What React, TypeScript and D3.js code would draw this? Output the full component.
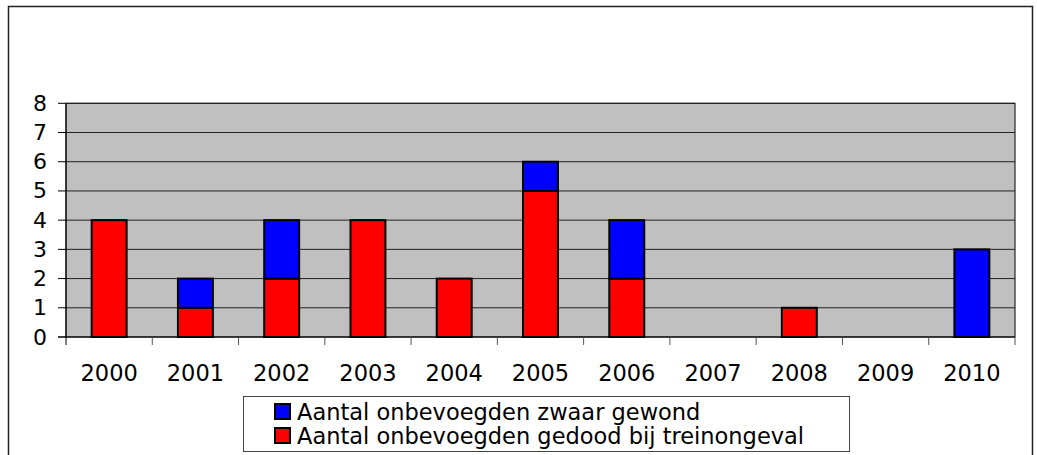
import * as React from 'react';
import * as d3 from 'd3';

const years: string[] = ['2000', '2001', '2002', '2003', '2004', '2005', '2006', '2007', '2008', '2009', '2010'];
// gedood bij treinongeval (bottom, red)
const killed: number[] = [4, 1, 2, 4, 2, 5, 2, 0, 1, 0, 0];
// zwaar gewond (top, blue)
const injured: number[] = [0, 1, 2, 0, 0, 1, 2, 0, 0, 0, 3];
const yTicks: number[] = [0, 1, 2, 3, 4, 5, 6, 7, 8];
const seriesNames: string[] = ['Aantal onbevoegden zwaar gewond', 'Aantal onbevoegden gedood bij treinongeval'];

const WIDTH = 1037;
const HEIGHT = 455;
const FONT = '"DejaVu Sans", Verdana, sans-serif';

const App: React.FC = () => {
	// plot area edges
	const left = 66;
	const right = 1015;
	const top = 103.3;
	const bottom = 337;

	const x = d3.scaleBand<string>().domain(years).range([left, right]).padding(0);
	const y = d3.scaleLinear().domain([0, 8]).range([bottom, top]);
	const barW = x.bandwidth() * 0.405;

	// stack: red first at the bottom, blue above it
	const rows = years.map((yr, i) => ({ year: yr, killed: killed[i], injured: injured[i] }));
	const stack = d3.stack<any>().keys(['killed', 'injured'])(rows);
	const colors: { [k: string]: string } = { killed: '#ff0000', injured: '#0000ff' };

	const boundaries = d3.range(years.length + 1).map((i) => left + i * x.bandwidth());

	return (
		<svg width={WIDTH} height={HEIGHT} style={{ position: 'absolute', left: 0, top: 0, background: '#fff' }} fontFamily={FONT}>
			{/* outer frame */}
			<rect x={8.5} y={6.5} width={1024} height={470} fill="#fff" stroke="#222" strokeWidth={1.5} />

			{/* plot area */}
			<rect x={left} y={top} width={right - left} height={bottom - top} fill="#c0c0c0" stroke="#000" strokeWidth={1} />

			{/* gridlines */}
			{yTicks.slice(1).map((t) => (
				<line key={'g' + t} x1={left} x2={right} y1={y(t)} y2={y(t)} stroke="#222" strokeWidth={1} />
			))}

			{/* bars */}
			{stack.map((layer) =>
				layer.map((seg, i) => {
					if (seg[1] - seg[0] <= 0) return null;
					const cx = (x(years[i]) as number) + x.bandwidth() / 2;
					return (
						<rect
							key={layer.key + i}
							x={cx - barW / 2}
							y={y(seg[1])}
							width={barW}
							height={y(seg[0]) - y(seg[1])}
							fill={colors[layer.key]}
							stroke="#000"
							strokeWidth={2}
						/>
					);
				})
			)}

			{/* axes */}
			<line x1={left} x2={left} y1={top} y2={bottom} stroke="#000" strokeWidth={1} />
			<line x1={left - 8} x2={right} y1={bottom} y2={bottom} stroke="#000" strokeWidth={1} />
			{yTicks.map((t) => (
				<g key={'yt' + t}>
					<line x1={left - 8} x2={left} y1={y(t)} y2={y(t)} stroke="#000" strokeWidth={1} />
					<text x={47} y={y(t)} textAnchor="end" dominantBaseline="central" fontSize={22} fill="#000">
						{t}
					</text>
				</g>
			))}
			{boundaries.map((bx, i) => (
				<line key={'xt' + i} x1={bx} x2={bx} y1={bottom} y2={bottom + 8} stroke={i === 0 ? '#000' : '#555'} strokeWidth={1} />
			))}
			{years.map((yr) => (
				<text key={yr} x={(x(yr) as number) + x.bandwidth() / 2} y={381} textAnchor="middle" fontSize={22.5} fill="#000">
					{yr}
				</text>
			))}

			{/* legend */}
			<rect x={243.5} y={396.5} width={606} height={55} fill="#fff" stroke="#444" strokeWidth={1} />
			{seriesNames.map((name, i) => (
				<g key={name}>
					<rect x={275} y={404 + i * 24} width={15} height={15} fill={i === 0 ? '#0000ff' : '#ff0000'} stroke="#000" strokeWidth={2} />
					<text x={297} y={420 + i * 24} fontSize={22.5} fill="#000">
						{name}
					</text>
				</g>
			))}
		</svg>
	);
};

export default App;
